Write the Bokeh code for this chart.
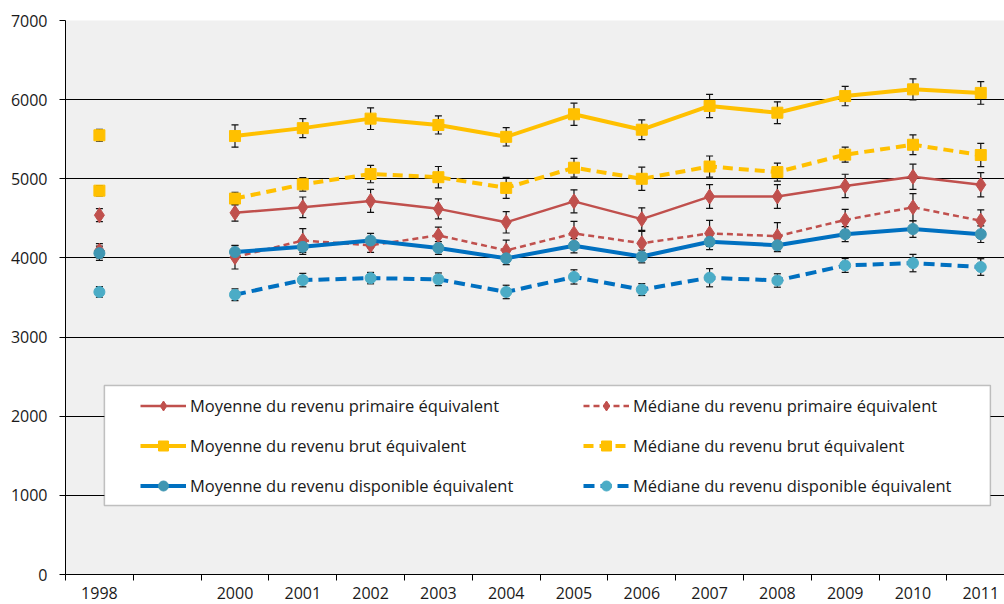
from bokeh.plotting import figure
from bokeh.models import (ColumnDataSource, Range1d, FixedTicker, Whisker, TeeHead,
                          Legend, LegendItem, BoxAnnotation)
from bokeh.embed import file_html
from bokeh.resources import INLINE

nan = float("nan")

years = ["1998", "1999", "2000", "2001", "2002", "2003", "2004", "2005",
         "2006", "2007", "2008", "2009", "2010", "2011"]

moy_prim = [4540, nan, 4570, 4640, 4720, 4620, 4450, 4715, 4490, 4775, 4776, 4910, 5025, 4925]
moy_prim_err = [82, nan, 105, 130, 145, 126, 135, 145, 143, 150, 150, 147, 160, 154]
med_prim = [4090, nan, 4010, 4220, 4160, 4285, 4095, 4310, 4185, 4310, 4275, 4480, 4640, 4470]
med_prim_err = [90, nan, 150, 150, 90, 105, 130, 153, 150, 165, 170, 133, 172, 137]
moy_brut = [5550, nan, 5540, 5640, 5760, 5680, 5530, 5815, 5620, 5920, 5835, 6045, 6130, 6085]
moy_brut_err = [76, nan, 140, 120, 137, 114, 116, 141, 124, 147, 137, 122, 133, 143]
med_brut = [4850, nan, 4750, 4930, 5060, 5020, 4885, 5140, 5000, 5155, 5085, 5305, 5430, 5300]
med_brut_err = [65, nan, 80, 85, 110, 135, 133, 118, 147, 133, 114, 95, 124, 147]
moy_disp = [4060, nan, 4075, 4140, 4220, 4125, 3995, 4155, 4018, 4205, 4160, 4300, 4365, 4300]
moy_disp_err = [90, nan, 80, 95, 90, 80, 80, 90, 80, 100, 80, 95, 105, 105]
med_disp = [3570, nan, 3535, 3720, 3745, 3730, 3570, 3760, 3600, 3750, 3715, 3905, 3935, 3885]
med_disp_err = [67, nan, 75, 85, 72, 80, 85, 90, 75, 115, 85, 88, 110, 105]

labels_moy = ["Moyenne du revenu primaire équivalent",
              "Moyenne du revenu brut équivalent",
              "Moyenne du revenu disponible équivalent"]
labels_med = ["Médiane du revenu primaire équivalent",
              "Médiane du revenu brut équivalent",
              "Médiane du revenu disponible équivalent"]

FONT = "Open Sans"
xs = list(range(len(years)))

p = figure(width=1004, height=604,
           x_range=Range1d(-0.5, 13.35), y_range=Range1d(0, 7000),
           output_backend="svg", toolbar_location=None,
           min_border_left=65, min_border_right=0, min_border_top=20, min_border_bottom=30,
           background_fill_color="#f0f0f0", border_fill_color="white",
           outline_line_color=None)

# axes
p.xgrid.visible = False
p.ygrid.ticker = FixedTicker(ticks=list(range(0, 7001, 1000)))
p.ygrid.grid_line_color = "black"
p.ygrid.grid_line_width = 1

p.yaxis.ticker = FixedTicker(ticks=list(range(0, 7001, 1000)))
p.yaxis.major_tick_out = 6
p.yaxis.major_tick_in = 0
p.yaxis.minor_tick_line_color = None
p.yaxis.axis_line_color = "black"
p.yaxis.major_tick_line_color = "black"
p.yaxis.major_label_text_font = FONT
p.yaxis.major_label_text_font_size = "16px"
p.yaxis.major_label_text_color = "#1a1a1a"
p.yaxis.major_label_standoff = 12

label_idx = [i for i, y in enumerate(years) if y != "1999"]
p.xaxis.ticker = FixedTicker(ticks=label_idx, minor_ticks=[i - 0.5 for i in xs])
p.xaxis.major_label_overrides = {i: years[i] for i in label_idx}
p.xaxis.major_tick_out = 0
p.xaxis.major_tick_in = 0
p.xaxis.major_tick_line_color = None
p.xaxis.minor_tick_out = 6
p.xaxis.minor_tick_in = 0
p.xaxis.minor_tick_line_color = "black"
p.xaxis.axis_line_color = "black"
p.xaxis.major_label_text_font = FONT
p.xaxis.major_label_text_font_size = "16px"
p.xaxis.major_label_text_color = "#1a1a1a"
p.xaxis.major_label_standoff = 6

series = [
    # values, err, line color, marker color, marker, size, lw, dash
    (moy_prim, moy_prim_err, "#C0504D", "#C0504D", "diamond", 15, 2.5, "solid"),
    (med_prim, med_prim_err, "#C0504D", "#C0504D", "diamond", 15, 2.5, "6 4"),
    (moy_brut, moy_brut_err, "#FFC000", "#FFC000", "square", 11, 4, "solid"),
    (med_brut, med_brut_err, "#FFC000", "#FFC000", "square", 11, 4, "10 6"),
    (moy_disp, moy_disp_err, "#0070C0", "#3F96B2", "circle", 11, 4, "solid"),
    (med_disp, med_disp_err, "#0070C0", "#4BACC6", "circle", 11, 4, "11 6"),
]

handles = []
for vals, err, lc, mc, marker, size, lw, dash in series:
    lower = [v - e for v, e in zip(vals, err)]
    upper = [v + e for v, e in zip(vals, err)]
    src = ColumnDataSource(dict(x=xs, y=vals, lower=lower, upper=upper))
    w = Whisker(source=src, base="x", lower="lower", upper="upper", dimension="height",
                line_color="#111111", line_width=1.2,
                upper_head=TeeHead(size=7, line_color="#111111", line_width=1.2),
                lower_head=TeeHead(size=7, line_color="#111111", line_width=1.2))
    p.add_layout(w)
    l = p.line("x", "y", source=src, line_color=lc, line_width=lw, line_dash=dash)
    s = p.scatter("x", "y", source=src, marker=marker, size=size,
                  fill_color=mc, line_color=mc)
    handles.append((l, s))

box = BoxAnnotation(left=(104 - 99) / 67.8, right=(990 - 99) / 67.8,
                    bottom=872, top=2388,
                    fill_color="white", fill_alpha=1.0,
                    line_color="#3a3a3a", line_width=1.5)
p.add_layout(box)

def make_legend(labels, hs, loc):
    return Legend(items=[LegendItem(label=t, renderers=list(h)) for t, h in zip(labels, hs)],
                  location=loc, orientation="vertical",
                  glyph_width=46, glyph_height=25, label_height=25, spacing=15,
                  padding=0, margin=0, label_standoff=4,
                  border_line_color=None, background_fill_alpha=0,
                  label_text_font=FONT, label_text_font_size="16.5px",
                  label_text_color="#1a1a1a")

p.add_layout(make_legend(labels_moy, [handles[0], handles[2], handles[4]], (75, 76)))
p.add_layout(make_legend(labels_med, [handles[1], handles[3], handles[5]], (518, 76)))

open("out.html", "w").write(file_html(p, INLINE))
